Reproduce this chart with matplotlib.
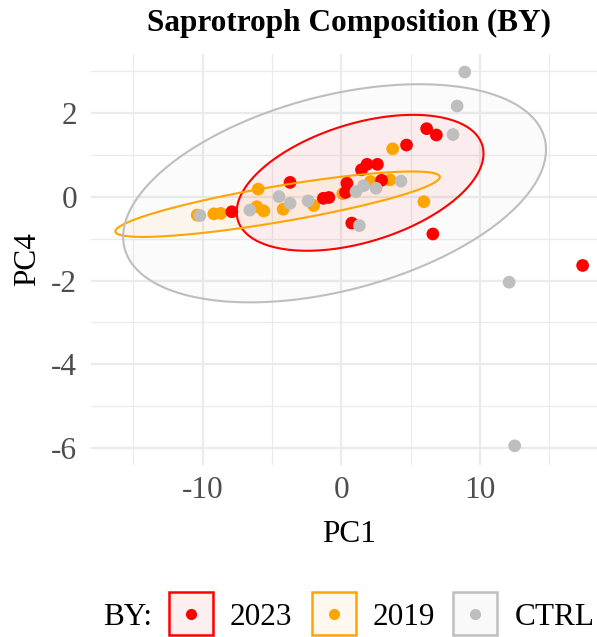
import numpy as np
import matplotlib
matplotlib.use("Agg")
import matplotlib.pyplot as plt
from matplotlib.patches import Polygon, Rectangle
from matplotlib.lines import Line2D

# ---- data ------------------------------------------------------------------
GROUPS = ["2023", "2019", "CTRL"]
COLORS = {"2023": "#FF0000", "2019": "#FFA500", "CTRL": "#BEBEBE"}
FILLS = {"2023": "#FDEFEF", "2019": "#FFF8EE", "CTRL": "#F9F9F9"}

RED_X = [-7.9, -3.7, -1.3, -0.9, 0.3, 0.4, 0.75, 1.45, 1.85, 2.6, 2.9, 4.7,
         6.15, 6.85, 6.6, 17.4]
RED_Y = [-0.36, 0.34, -0.04, -0.02, 0.10, 0.32, -0.63, 0.64, 0.77, 0.77, 0.39,
         1.23, 1.62, 1.47, -0.89, -1.64]

ORANGE_X = [-10.4, -9.2, -8.7, -6.0, -6.1, -5.6, -4.2, -2.0, 0.1, 2.1, 3.5,
            3.7, 5.95]
ORANGE_Y = [-0.44, -0.41, -0.40, 0.18, -0.24, -0.34, -0.30, -0.21, 0.07, 0.36,
            0.40, 1.14, -0.12]

GRAY_X = [-10.2, -6.6, -4.5, -3.7, -2.4, 1.05, 1.6, 2.5, 1.3, 4.3, 8.05, 8.35,
          8.9, 12.1, 12.5]
GRAY_Y = [-0.45, -0.32, 0.0, -0.16, -0.10, 0.12, 0.26, 0.20, -0.69, 0.37, 1.48,
          2.16, 2.97, -2.04, -5.94]

# 95% ellipses: centre, half x-extent, half y-extent,
# and cos of the phase between x and y (controls the tilt)
ELL_CX = {"2023": 1.35, "2019": -4.6, "CTRL": -0.49}
ELL_CY = {"2023": 0.33, "2019": -0.18, "CTRL": 0.08}
ELL_RX = {"2023": 8.9, "2019": 11.7, "CTRL": 15.25}
ELL_RY = {"2023": 1.62, "2019": 0.78, "CTRL": 2.60}
ELL_COS = {"2023": 0.43, "2019": 0.83, "CTRL": 0.40}

SERIES = {"2023": (RED_X, RED_Y), "2019": (ORANGE_X, ORANGE_Y),
          "CTRL": (GRAY_X, GRAY_Y)}

plt.rcParams["font.family"] = ["Liberation Serif", "DejaVu Serif"]
plt.rcParams["axes.unicode_minus"] = False   # reference uses a plain hyphen
FS = 22.5
W, H = 597, 637

fig = plt.figure(figsize=(W / 100, H / 100), dpi=100)
# panel runs past the right edge, as in the (cropped) reference
ax = fig.add_axes([91.1 / W, (H - 464.7) / H, 515.1 / W, 411.1 / H])

for g in ["2019", "2023", "CTRL"]:
    xs, ys = SERIES[g]
    ax.scatter(xs, ys, s=84, color=COLORS[g], edgecolors="none", zorder=3)

t = np.linspace(0, 2 * np.pi, 200)
for g in ["2023", "2019", "CTRL"]:
    d = np.arccos(ELL_COS[g])
    ex = ELL_CX[g] + ELL_RX[g] * np.cos(t)
    ey = ELL_CY[g] + ELL_RY[g] * np.cos(t + d)
    ax.add_patch(Polygon(np.column_stack([ex, ey]), closed=True,
                         facecolor=COLORS[g], alpha=0.06, edgecolor="none",
                         zorder=2))
    ax.add_patch(Polygon(np.column_stack([ex, ey]), closed=True,
                         facecolor="none", edgecolor=COLORS[g], lw=1.5,
                         zorder=4))

ax.set_xlim(-18.05, 19.1)
ax.set_ylim(-6.39, 3.41)
ax.set_xticks([-10, 0, 10])
ax.set_xticks([-15, -5, 5, 15], minor=True)
ax.set_yticks([-6, -4, -2, 0, 2])
ax.set_yticks([-5, -3, -1, 1, 3], minor=True)
ax.grid(which="major", color="#EBEBEB", lw=1.6)
ax.grid(which="minor", color="#EBEBEB", lw=0.9)
ax.set_axisbelow(True)
for s in ax.spines.values():
    s.set_visible(False)
ax.tick_params(which="both", length=0, labelsize=FS, colors="#4D4D4D")
ax.tick_params(axis="x", pad=8)
ax.tick_params(axis="y", pad=10)

ax.set_xlabel("PC1", fontsize=FS, va="center")
ax.xaxis.set_label_coords(0.5, -0.171)
ax.set_ylabel("PC4", fontsize=FS, va="center")
ax.yaxis.set_label_coords(-0.1225, 0.5)

fig.text(348.6 / W, 1 - 31 / H, "Saprotroph Composition (BY)", ha="center",
         va="baseline", fontsize=FS, fontweight="bold")

# ---- legend, drawn by hand in figure pixels -------------------------------
def fx(px):
    return px / W


def fy(py):
    return 1 - py / H


fig.text(fx(103), fy(625), "BY:", fontsize=FS, va="baseline", ha="left")
box_left = {"2023": 169, "2019": 312, "CTRL": 453}
text_left = {"2023": 230, "2019": 373, "CTRL": 515}
for g in GROUPS:
    x0 = box_left[g]
    fig.add_artist(Rectangle((fx(x0), fy(635)), 44 / W, 43 / H,
                             transform=fig.transFigure, facecolor=FILLS[g],
                             edgecolor=COLORS[g], lw=1.8))
    fig.add_artist(Line2D([fx(x0 + 22)], [fy(613.5)], marker="o", ms=8,
                          color=COLORS[g], mec="none", ls="",
                          transform=fig.transFigure))
    fig.text(fx(text_left[g]), fy(625), g, fontsize=FS, va="baseline",
             ha="left")

fig.savefig("out.png", dpi=100)
